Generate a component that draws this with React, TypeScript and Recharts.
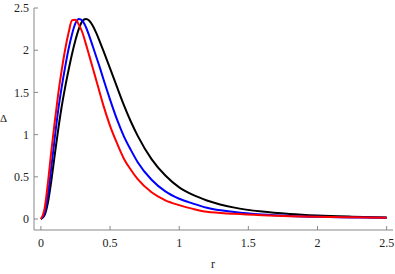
import React from 'react'
import { LineChart, Line, XAxis, YAxis } from 'recharts'

// sample radii and the three Δ(r) curves
const rValues = [
  0, 0.025, 0.05, 0.075, 0.1, 0.125, 0.15, 0.175, 0.2, 0.225, 0.25, 0.275, 0.3, 0.325,
  0.35, 0.375, 0.4, 0.425, 0.45, 0.5, 0.55, 0.6, 0.65, 0.7, 0.8, 0.9, 1.0, 1.1, 1.2, 1.4, 1.6, 1.8, 2.0, 2.25, 2.5,
]
const blackValues = [
  0, 0.04, 0.19, 0.45, 0.76, 1.06, 1.33, 1.56, 1.765, 1.955, 2.12, 2.255, 2.345, 2.37,
  2.35, 2.29, 2.205, 2.105, 2.0, 1.785, 1.565, 1.35, 1.155, 0.985, 0.71, 0.515, 0.375, 0.285, 0.22, 0.135, 0.088, 0.06, 0.042, 0.028, 0.018,
]
const blueValues = [
  0, 0.06, 0.28, 0.61, 0.96, 1.29, 1.56, 1.8, 2.015, 2.19, 2.32, 2.37, 2.35, 2.275,
  2.167, 2.047, 1.923, 1.8, 1.668, 1.415, 1.18, 0.98, 0.819, 0.673, 0.465, 0.327, 0.24, 0.183, 0.134, 0.083, 0.053, 0.036, 0.026, 0.019, 0.015,
]
const redValues = [
  0, 0.11, 0.42, 0.8, 1.15, 1.48, 1.76, 2.006, 2.206, 2.355, 2.36, 2.3, 2.21, 2.075,
  1.933, 1.79, 1.645, 1.5, 1.355, 1.104, 0.898, 0.715, 0.584, 0.472, 0.317, 0.222, 0.165, 0.12, 0.085, 0.062, 0.046, 0.034, 0.026, 0.02, 0.015,
]
const xTicks = [0, 0.5, 1, 1.5, 2, 2.5]
const yTicks = [0, 0.5, 1, 1.5, 2, 2.5]

const data = rValues.map((r, i) => ({
  r,
  black: blackValues[i],
  blue: blueValues[i],
  red: redValues[i],
}))

const serif = '"Liberation Serif", "Times New Roman", Tinos, "DejaVu Serif", serif'
const frame = '#888'
const tickStyle = { fill: '#222', fontSize: 12, fontFamily: serif }

export default function App() {
  return (
    <div style={{ position: 'absolute', left: 0, top: 0, width: 395, height: 274, background: '#fff', fontFamily: serif }}>
      <style>{`.recharts-text { font-family: ${serif}; }`}</style>
      <LineChart width={395} height={274} data={data} margin={{ top: 8, right: 2, left: 0, bottom: 0 }}>
        <XAxis
          dataKey="r"
          type="number"
          domain={[-0.05, 2.546]}
          ticks={xTicks}
          allowDataOverflow
          height={44}
          tickSize={-4}
          tickMargin={12}
          stroke={frame}
          tick={tickStyle}
        />
        <XAxis xAxisId="top" orientation="top" type="number" domain={[-0.05, 2.546]} height={0} tick={false} tickLine={false} stroke={frame} />
        <YAxis
          type="number"
          domain={[-0.13, 2.5]}
          ticks={yTicks}
          allowDataOverflow
          width={34}
          tickSize={-4}
          tickMargin={9}
          stroke={frame}
          tick={tickStyle}
        />
        <YAxis yAxisId="right" orientation="right" type="number" domain={[-0.13, 2.5]} width={0} tick={false} tickLine={false} stroke={frame} />
        <Line type="monotone" dataKey="black" stroke="#000" strokeWidth={2} dot={false} isAnimationActive={false} />
        <Line type="monotone" dataKey="blue" stroke="#0000ff" strokeWidth={2} dot={false} isAnimationActive={false} />
        <Line type="monotone" dataKey="red" stroke="#ff0000" strokeWidth={2} dot={false} isAnimationActive={false} />
      </LineChart>
      <span style={{ position: 'absolute', left: 0, top: 112, fontSize: 11, color: '#222' }}>Δ</span>
      <span style={{ position: 'absolute', left: 211, top: 257, fontSize: 12, color: '#222' }}>r</span>
    </div>
  )
}
